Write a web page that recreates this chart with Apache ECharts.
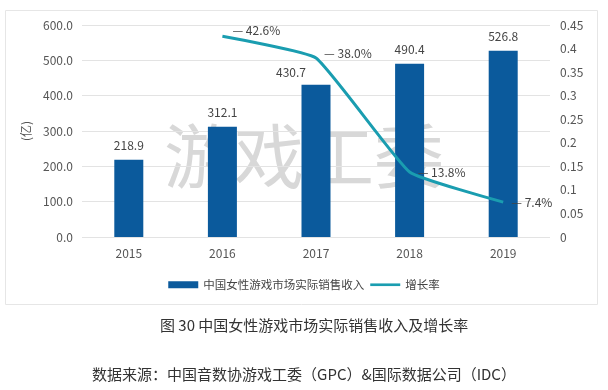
<!DOCTYPE html>
<html><head><meta charset="utf-8">
<script src="https://cdn.jsdelivr.net/npm/echarts@6/dist/echarts.min.js"></script>
<style>html,body{margin:0;padding:0;background:#fff}#c{width:608px;height:390px}</style>
</head><body><div id="c"></div>
<script>
const categories = ['2015','2016','2017','2018','2019'];
const revenue = [218.9, 312.1, 430.7, 490.4, 526.8];
const growth = [null, 0.426, 0.380, 0.138, 0.074];
const leftTicks = [0,100,200,300,400,500,600];
const rightTicks = [0,0.05,0.1,0.15,0.2,0.25,0.3,0.35,0.4,0.45];
const seriesNames = ['中国女性游戏市场实际销售收入','增长率'];
const unitName = '(亿)';
const titleText = '图 30 中国女性游戏市场实际销售收入及增长率';
const sourceText = '数据来源：中国音数协游戏工委（GPC）&国际数据公司（IDC）';
const watermark = '游戏工委';

const FONT = '"Noto Sans CJK SC", "Open Sans", sans-serif';
const chart = echarts.init(document.getElementById('c'));
chart.setOption({
  animation: false,
  textStyle: {fontFamily: FONT},
  grid: {left: 82, right: 58, top: 25, bottom: 153},
  graphic: [
    {type:'rect', left: 3, top: 8, shape:{width: 592, height: 294}, style:{fill:'none', stroke:'#e6e6e6', lineWidth:1}, z:-10},
    {type:'text', left: 'center', top: 121, z: -5, style:{text: watermark, font: '70px "Noto Sans CJK SC"', fill: '#d8d8d8'}},
    {type:'text', left: 160, top: 318, style:{text: titleText, font: '15px "Noto Sans CJK SC"', fill: '#333'}},
    {type:'text', left: 'center', top: 367, style:{text: sourceText, font: '15px "Noto Sans CJK SC"', fill: '#333'}}
  ],
  legend: {
    top: 274, left: 'center', itemGap: 6,
    textStyle: {fontSize: 11.5, color: '#444', fontFamily: FONT},
    data: [
      {name: seriesNames[0], icon: 'rect', itemWidth: 30, itemHeight: 7},
      {name: seriesNames[1], icon: 'path://M0,0 L34,0 L34,3 L0,3 Z', itemWidth: 34, itemHeight: 3}
    ],
    itemWidth: 30, itemHeight: 7
  },
  xAxis: {
    type: 'category', data: categories,
    axisTick: {show: false},
    axisLine: {show: false},
    axisLabel: {color: '#555', fontSize: 12, margin: 10}
  },
  yAxis: [
    {type: 'value', min: 0, max: 600, interval: 100,
     name: unitName, nameLocation: 'middle', nameRotate: 90, nameGap: 50,
     nameTextStyle: {color: '#555', fontSize: 12},
     axisLabel: {color: '#555', fontSize: 12, margin: 9, formatter: v => v.toFixed(1)},
     splitLine: {lineStyle: {color: '#e3e3e3'}}},
    {type: 'value', min: 0, max: 0.45, interval: 0.05,
     axisLabel: {color: '#555', fontSize: 12, margin: 10, formatter: v => String(parseFloat(v.toFixed(2)))},
     splitLine: {show: false}}
  ],
  series: [
    {name: seriesNames[0], type: 'bar', data: revenue, barWidth: 29,
     itemStyle: {color: '#0b5a9c'},
     label: {show: true, position: 'top', distance: 8, color: '#444', fontSize: 12,
       formatter: p => p.value.toFixed(1)},
     labelLayout: p => p.dataIndex === 2 ? {dx: -25, dy: 2} : {}
    },
    {name: seriesNames[1], type: 'line', yAxisIndex: 1, data: growth,
     smooth: 0.12, symbol: 'circle', symbolSize: 0.1, showSymbol: true, connectNulls: false,
     lineStyle: {color: '#1a9db0', width: 3}, itemStyle: {color: '#1a9db0'},
     label: {show: true, position: 'right', distance: 8, color: '#444', fontSize: 12,
       formatter: p => '— ' + (p.value*100).toFixed(1) + '%'},
     labelLayout: p => p.dataIndex === 1 ? {dx: 2, dy: -6} : (p.dataIndex === 2 ? {dx: 0, dy: -5} : {})
    }
  ]
});
</script></body></html>
